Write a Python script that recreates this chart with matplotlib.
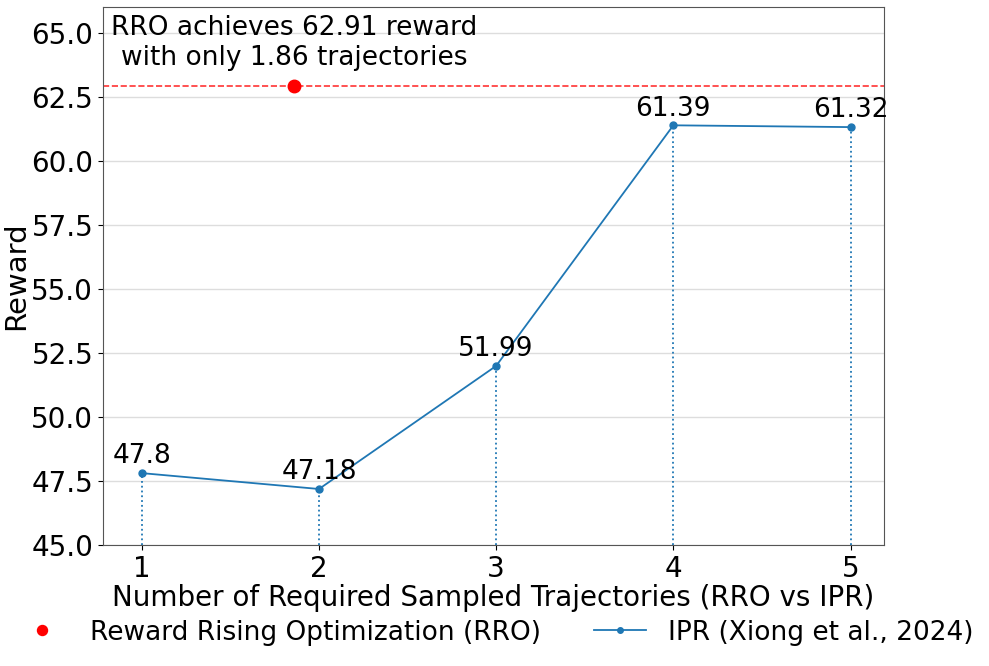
import matplotlib.pyplot as plt
import numpy as np

trajectories = [1, 2, 3, 4, 5]
ipr_reward = [47.8, 47.18, 51.99, 61.39, 61.32]
rro_traj = 1.86
rro_reward = 62.91

fig, ax = plt.subplots(figsize=(9.89, 6.66), dpi=100)

ax.plot(trajectories, ipr_reward, marker='o', markersize=5, color='#1f77b4',
        linewidth=1.3, label='IPR (Xiong et al., 2024)')
ax.plot([rro_traj], [rro_reward], 'o', color='red', markersize=9, linestyle='none',
        label='Reward Rising Optimization (RRO)')
ax.axhline(rro_reward, color='red', linestyle='--', linewidth=1.2, alpha=0.8)

for x, y in zip(trajectories, ipr_reward):
    ax.vlines(x, 45, y, colors='#1f77b4', linestyles=':', linewidth=1.3)
    ax.annotate(str(y), (x, y), textcoords='offset points', xytext=(0, 7),
                ha='center', fontsize=19)

ax.text(rro_traj, 64.6, 'RRO achieves 62.91 reward\nwith only 1.86 trajectories',
        ha='center', va='center', fontsize=19)

ax.set_xlim(0.78, 5.19)
ax.set_ylim(45, 66)
ax.set_xticks(trajectories)
ax.set_yticks(np.arange(45, 65.1, 2.5))
ax.tick_params(labelsize=20)
for s in ax.spines.values():
    s.set_color('#555555')
ax.grid(axis='y', color='#dddddd', linewidth=1)
ax.set_axisbelow(True)
ax.set_xlabel('Number of Required Sampled Trajectories (RRO vs IPR)', fontsize=20, labelpad=1)
ax.set_ylabel('Reward', fontsize=21, labelpad=1)

h, l = ax.get_legend_handles_labels()
leg = fig.legend([h[1], h[0]], [l[1], l[0]], loc='lower center', ncol=2, frameon=False,
                 fontsize=19, bbox_to_anchor=(0.5, -0.005), columnspacing=2.0,
                 markerscale=0.8)

fig.subplots_adjust(left=0.104, right=0.894, top=0.989, bottom=0.182)
fig.savefig('out.png')
